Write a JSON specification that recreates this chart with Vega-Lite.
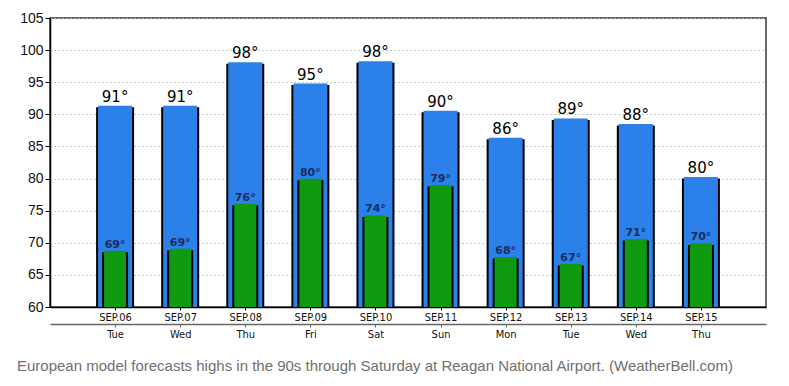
{
  "$schema": "https://vega.github.io/schema/vega-lite/v6.json",
  "width": 716,
  "height": 289,
  "autosize": "none",
  "padding": {"left": 50, "top": 18, "right": 23, "bottom": 79},
  "background": "white",
  "config": {
    "view": {"stroke": "#3a3a3a", "strokeWidth": 1.5},
    "font": "DejaVu Sans",
    "axisY": {
      "title": null,
      "labelOverlap": false,
      "labelFlush": false,
      "labelBound": false,
      "labelFont": "Liberation Sans",
      "labelFontSize": 14,
      "labelColor": "#111111",
      "labelPadding": 2,
      "tickSize": 5,
      "tickColor": "#000000",
      "domainColor": "#000000",
      "domainWidth": 1.5,
      "grid": true,
      "gridColor": "#b8b8b8",
      "gridDash": [1.5, 2.5],
      "gridWidth": 1
    }
  },
  "title": {
    "text": "European model forecasts highs in the 90s through Saturday at Reagan National Airport. (WeatherBell.com)",
    "orient": "bottom",
    "anchor": "start",
    "frame": "group",
    "offset": 20,
    "dx": -33,
    "fontSize": 15,
    "font": "Liberation Sans",
    "fontWeight": "normal",
    "color": "#707070"
  },
  "data": {
    "values": [
      {"day": "SEP.06|Tue", "hi": 91.35, "lo": 68.75, "hiLabel": "91°", "loLabel": "69°"},
      {"day": "SEP.07|Wed", "hi": 91.35, "lo": 69.07, "hiLabel": "91°", "loLabel": "69°"},
      {"day": "SEP.08|Thu", "hi": 98.1, "lo": 76.07, "hiLabel": "98°", "loLabel": "76°"},
      {"day": "SEP.09|Fri", "hi": 94.8, "lo": 79.97, "hiLabel": "95°", "loLabel": "80°"},
      {"day": "SEP.10|Sat", "hi": 98.26, "lo": 74.25, "hiLabel": "98°", "loLabel": "74°"},
      {"day": "SEP.11|Sun", "hi": 90.56, "lo": 79.0, "hiLabel": "90°", "loLabel": "79°"},
      {"day": "SEP.12|Mon", "hi": 86.35, "lo": 67.77, "hiLabel": "86°", "loLabel": "68°"},
      {"day": "SEP.13|Tue", "hi": 89.36, "lo": 66.7, "hiLabel": "89°", "loLabel": "67°"},
      {"day": "SEP.14|Wed", "hi": 88.48, "lo": 70.6, "hiLabel": "88°", "loLabel": "71°"},
      {"day": "SEP.15|Thu", "hi": 80.23, "lo": 69.9, "hiLabel": "80°", "loLabel": "70°"}
    ]
  },
  "resolve": {"axis": {"x": "independent"}},
  "layer": [
    {
      "mark": {"type": "bar", "width": 38, "color": "#000000", "yOffset": 1.5},
      "encoding": {
        "x": {
          "field": "day", "type": "nominal", "sort": null,
          "scale": {"type": "point", "padding": 1},
          "axis": {
            "orient": "bottom",
            "title": null,
            "labelAngle": 0,
            "labelExpr": "split(datum.label, '|')[0]",
            "labelFont": "DejaVu Sans Condensed, DejaVu Sans",
            "labelFontSize": 11,
            "labelColor": "#111111",
            "labelPadding": 1,
            "labelOverlap": false,
            "tickSize": 3,
            "tickColor": "#000000",
            "domainColor": "#000000",
            "domainWidth": 1.5,
            "grid": false
          }
        },
        "y": {
          "field": "hi", "type": "quantitative",
          "scale": {"domain": [60, 105], "nice": false, "zero": false},
          "axis": {"values": [60, 65, 70, 75, 80, 85, 90, 95, 100, 105]}
        },
        "y2": {"datum": 60}
      }
    },
    {
      "mark": {"type": "bar", "width": 34, "color": "#2b80ea"},
      "encoding": {
        "x": {
          "field": "day", "type": "nominal", "sort": null,
          "axis": {
            "orient": "bottom",
            "offset": 17,
            "title": null,
            "labelAngle": 0,
            "labelExpr": "split(datum.label, '|')[1]",
            "labelFont": "DejaVu Sans Condensed, DejaVu Sans",
            "labelFontSize": 11,
            "labelColor": "#111111",
            "labelPadding": 1,
            "labelOverlap": false,
            "tickSize": 3,
            "tickColor": "#666666",
            "domainColor": "#666666",
            "domainWidth": 1.5,
            "grid": false
          }
        },
        "y": {"field": "hi", "type": "quantitative", "axis": {"values": [60, 65, 70, 75, 80, 85, 90, 95, 100, 105]}},
        "y2": {"datum": 60}
      }
    },
    {
      "mark": {"type": "bar", "width": 26, "color": "#000000", "yOffset": 1.5},
      "encoding": {
        "x": {"field": "day", "type": "nominal", "sort": null, "axis": null},
        "y": {"field": "lo", "type": "quantitative", "axis": {"values": [60, 65, 70, 75, 80, 85, 90, 95, 100, 105]}},
        "y2": {"datum": 60}
      }
    },
    {
      "mark": {"type": "bar", "width": 22, "color": "#109a10"},
      "encoding": {
        "x": {"field": "day", "type": "nominal", "sort": null, "axis": null},
        "y": {"field": "lo", "type": "quantitative", "axis": {"values": [60, 65, 70, 75, 80, 85, 90, 95, 100, 105]}},
        "y2": {"datum": 60}
      }
    },
    {
      "mark": {"type": "text", "baseline": "bottom", "dy": -1, "fontSize": 15, "font": "DejaVu Sans", "color": "#000000"},
      "encoding": {
        "x": {"field": "day", "type": "nominal", "sort": null, "axis": null},
        "y": {"field": "hi", "type": "quantitative", "axis": {"values": [60, 65, 70, 75, 80, 85, 90, 95, 100, 105]}},
        "text": {"field": "hiLabel"}
      }
    },
    {
      "mark": {"type": "text", "baseline": "bottom", "dy": -1, "fontSize": 11, "font": "DejaVu Sans", "fontWeight": "bold", "color": "#1b2d5e"},
      "encoding": {
        "x": {"field": "day", "type": "nominal", "sort": null, "axis": null},
        "y": {"field": "lo", "type": "quantitative", "axis": {"values": [60, 65, 70, 75, 80, 85, 90, 95, 100, 105]}},
        "text": {"field": "loLabel"}
      }
    }
  ]
}
